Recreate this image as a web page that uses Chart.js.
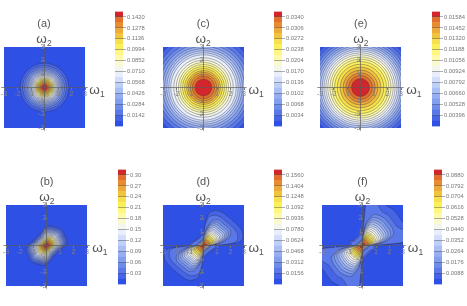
<!DOCTYPE html>
<html>
<head>
<meta charset="utf-8">
<script src="https://cdn.jsdelivr.net/npm/chart.js@4/dist/chart.umd.min.js"></script>
<style>
  html, body { margin:0; padding:0; background:#fff; overflow:hidden; }
  #page { position:relative; width:467px; height:306px; overflow:hidden; filter:blur(.45px); font-family:"Liberation Sans", sans-serif; color:#555; }
  #page canvas { position:absolute; }
  .lbl { position:absolute; transform:translate(-50%,-50%); white-space:nowrap; }
  .om { font-size:13.5px; }
  .om sub { font-size:8.5px; vertical-align:-3px; line-height:0; }
  .ttl { font-size:11px; }
</style>
</head>
<body>
<div id="page"></div>
<script>
// colour bar labels, top to bottom
const ticksA = ['0.1420','0.1278','0.1136','0.0994','0.0852','0.0710','0.0568','0.0426','0.0284','0.0142'];
const ticksB = ['0.30','0.27','0.24','0.21','0.18','0.15','0.12','0.09','0.06','0.03'];
const ticksC = ['0.0340','0.0306','0.0272','0.0238','0.0204','0.0170','0.0136','0.0102','0.0068','0.0034'];
const ticksD = ['0.1560','0.1404','0.1248','0.1092','0.0936','0.0780','0.0624','0.0468','0.0312','0.0156'];
const ticksE = ['0.01584','0.01452','0.01320','0.01188','0.01056','0.00924','0.00792','0.00660','0.00528','0.00396'];
const ticksF = ['0.0880','0.0792','0.0704','0.0616','0.0528','0.0440','0.0352','0.0264','0.0176','0.0088'];

const axisTicks = [-3,-2,-1,1,2,3];

// contour levels, outermost first (radius for round panels, scale of the profile for the others)
const levelsA = [1.8,1.62,1.48,1.36,1.26,1.17,1.08,1.0,.93,.86,.79,.72,.66,.6,.54,.48,.42,.35,.28,.2];
const levelsC = [4.0,3.72,3.45,3.25,3.05,2.88,2.72,2.57,2.42,2.2,2.02,1.85,1.7,1.55,1.4,1.25,1.12,.98,.82,.62];
const levelsE = [4.05,3.8,3.6,3.42,3.26,3.12,2.98,2.84,2.7,2.56,2.42,2.26,2.1,1.92,1.72,1.5,1.28,1.08,.88,.66];
const levelsB = [1,.93,.87,.82,.77,.72,.67,.63,.58,.54,.5,.46,.42,.38,.34,.3,.26,.22,.17,.12];
const levelsD = [1,.87,.78,.71,.65,.6,.55,.5,.46,.42,.38,.34,.3,.27,.24,.2,.17,.14,.1,.06];
const levelsF = [1,.84,.74,.67,.61,.56,.51,.47,.43,.39,.35,.31,.28,.25,.22,.19,.16,.13,.1,.06];

// contour radius at each angle (the lobes repeat after 180 degrees)
// the outer profile is for the two largest contours, the inner one for the rest
const angles = [0,5,10,20,30,40,50,60,70,80,85,90,100,110,120,130,140,150,160,170];
const profileRound = [1,1,1,1,1,1,1,1,1,1,1,1,1,1,1,1,1,1,1,1];
const profileB = [1.45,1.5,1.55,1.55,1.55,1.6,1.6,1.55,1.5,1.5,1.45,1.4,1.25,1.1,1.0,.95,.95,1.0,1.05,1.2];
const profileD = [1.05,2.6,2.95,3.05,2.95,2.85,2.8,2.82,2.75,2.45,1.7,.95,.8,.72,.68,.68,.7,.75,.85,1.0];
const profileDInner = [.7,1.2,1.9,2.7,2.95,2.85,2.8,2.82,2.55,1.7,1.15,.7,.6,.55,.5,.5,.5,.55,.6,.65];
const profileF = [1.0,3.9,4.6,3.9,3.45,3.45,3.5,3.45,3.9,4.6,3.9,1.0,.95,.85,.8,.77,.77,.8,1.0,1.0];
const profileFInner = [.7,1.4,2.4,3.3,3.45,3.45,3.5,3.45,3.3,2.4,1.4,.7,.6,.55,.5,.5,.5,.55,.6,.65];

const bandColors = ['#2e50e4','#4664e6','#5a78e8','#6e8cea','#829eee','#96aff2','#aabef6','#bed0f8','#d2defa','#e8eefa','#f4f6ec',
  '#fafad2','#fefaaa','#fef882','#fcf05a','#f8e04c','#f0c43c','#ecaa38','#e88c32','#e0702c','#d4242c'];

const panels = [
  {name:'(a)', ticks:ticksA, levels:levelsA, outer:profileRound, inner:profileRound, px:3.5,   py:47,  bx:115, by:10},
  {name:'(b)', ticks:ticksB, levels:levelsB, outer:profileB,     inner:profileB,     px:6.3,   py:205, bx:118, by:168},
  {name:'(c)', ticks:ticksC, levels:levelsC, outer:profileRound, inner:profileRound, px:162.7, py:47,  bx:274, by:10},
  {name:'(d)', ticks:ticksD, levels:levelsD, outer:profileD,     inner:profileDInner, px:162.7, py:205, bx:274, by:168},
  {name:'(e)', ticks:ticksE, levels:levelsE, outer:profileRound, inner:profileRound, px:320.3, py:47,  bx:432, by:10},
  {name:'(f)', ticks:ticksF, levels:levelsF, outer:profileF,     inner:profileFInner, px:322,   py:205, bx:434, by:168}
];

const page = document.getElementById('page');

function addCanvas(left, top, w, h) {
  const box = document.createElement('canvas');
  box.style.left = left + 'px';
  box.style.top = top + 'px';
  box.style.width = w + 'px';
  box.style.height = h + 'px';
  box.width = w;
  box.height = h;
  page.appendChild(box);
  return box;
}

function addLabel(html, cls, x, y) {
  const el = document.createElement('div');
  el.className = 'lbl ' + cls;
  el.innerHTML = html;
  el.style.left = x + 'px';
  el.style.top = y + 'px';
  page.appendChild(el);
}

function contour(level, profile) {
  const pts = [];
  for (let turn = 0; turn < 2; turn++) {
    angles.forEach((a, i) => {
      const t = (a + turn * 180) * Math.PI / 180;
      pts.push({x: level * profile[i] * Math.cos(t), y: level * profile[i] * Math.sin(t)});
    });
  }
  pts.push(pts[0]);
  return pts;
}

function centerAxis(pos) {
  return {
    type: 'linear', min: -3, max: 3, position: pos,
    afterBuildTicks: ax => { ax.ticks = axisTicks.map(v => ({value: v})); },
    grid: {drawOnChartArea: false, drawTicks: true, tickLength: 2, color: '#777', z: 1},
    border: {display: false},
    ticks: {color: '#808080', font: {size: 7}, padding: 0, maxRotation: 0, autoSkip: false, z: 1}
  };
}

// axis lines stick out a little past the square
function axisLine(data) {
  return {data, showLine: true, fill: false, pointRadius: 0, borderWidth: .8,
    borderColor: 'rgba(90,90,90,.85)', clip: false, order: -1};
}

function drawContours(p) {
  const datasets = [
    axisLine([{x:-3.2,y:0},{x:3.2,y:0}]),
    axisLine([{x:0,y:-3.2},{x:0,y:3.2}]),
    {data: [{x:-3,y:-3},{x:3,y:-3},{x:3,y:3},{x:-3,y:3},{x:-3,y:-3}],
      showLine: true, fill: 'shape', pointRadius: 0, borderWidth: 0,
      backgroundColor: bandColors[0], order: 30}
  ];
  p.levels.forEach((lv, k) => {
    datasets.push({
      data: contour(lv, k < 2 ? p.outer : p.inner),
      showLine: true, fill: 'shape', pointRadius: 0, tension: .25,
      borderWidth: .7, borderColor: 'rgba(45,45,70,.55)',
      backgroundColor: bandColors[k + 1],
      order: 25 - k
    });
  });
  new Chart(addCanvas(p.px - 12, p.py - 12, 105, 105), {
    type: 'scatter',
    data: {datasets},
    options: {
      animation: false, responsive: false,
      layout: {padding: 12},
      plugins: {legend: {display: false}, tooltip: {enabled: false}},
      scales: {x: centerAxis({y: 0}), y: centerAxis({x: 0})}
    }
  });
}

function drawBar(p) {
  const nums = p.ticks.map(Number).reverse();
  const half = (nums[1] - nums[0]) / 2;
  const bottom = nums[0] - 2 * half;
  const datasets = bandColors.map((c, i) => ({
    data: [[bottom + i * half, bottom + (i + 1) * half]],
    backgroundColor: c, borderWidth: 0, grouped: false,
    categoryPercentage: 1, barPercentage: 1
  }));
  new Chart(addCanvas(p.bx, p.by - 3, 38, 124), {
    type: 'bar',
    data: {labels: [''], datasets},
    options: {
      animation: false, responsive: false,
      layout: {padding: {top: 3, bottom: 3, left: 0, right: 0}},
      plugins: {legend: {display: false}, tooltip: {enabled: false}},
      scales: {
        x: {display: false},
        y: {
          position: 'right', min: bottom, max: bottom + 21 * half,
          afterBuildTicks: ax => { ax.ticks = nums.map(v => ({value: v})); },
          afterFit: ax => { ax.width = 30; },
          grid: {drawOnChartArea: true, color: 'rgba(70,70,80,.55)', lineWidth: .8, tickLength: 3, z: 1},
          border: {display: false},
          ticks: {color: '#777', font: {size: 5.8}, padding: 1, autoSkip: false,
            callback: (v, i) => p.ticks[p.ticks.length - 1 - i]}
        }
      }
    }
  });
}

panels.forEach(p => {
  drawContours(p);
  drawBar(p);
  const cx = p.px + 40.5;
  addLabel(p.name, 'ttl', cx, p.py - 24.5);
  addLabel('ω<sub>2</sub>', 'om', cx, p.py - 9.5);
  addLabel('ω<sub>1</sub>', 'om', p.px + 93.5, p.py + 42);
});
</script>
</body>
</html>
